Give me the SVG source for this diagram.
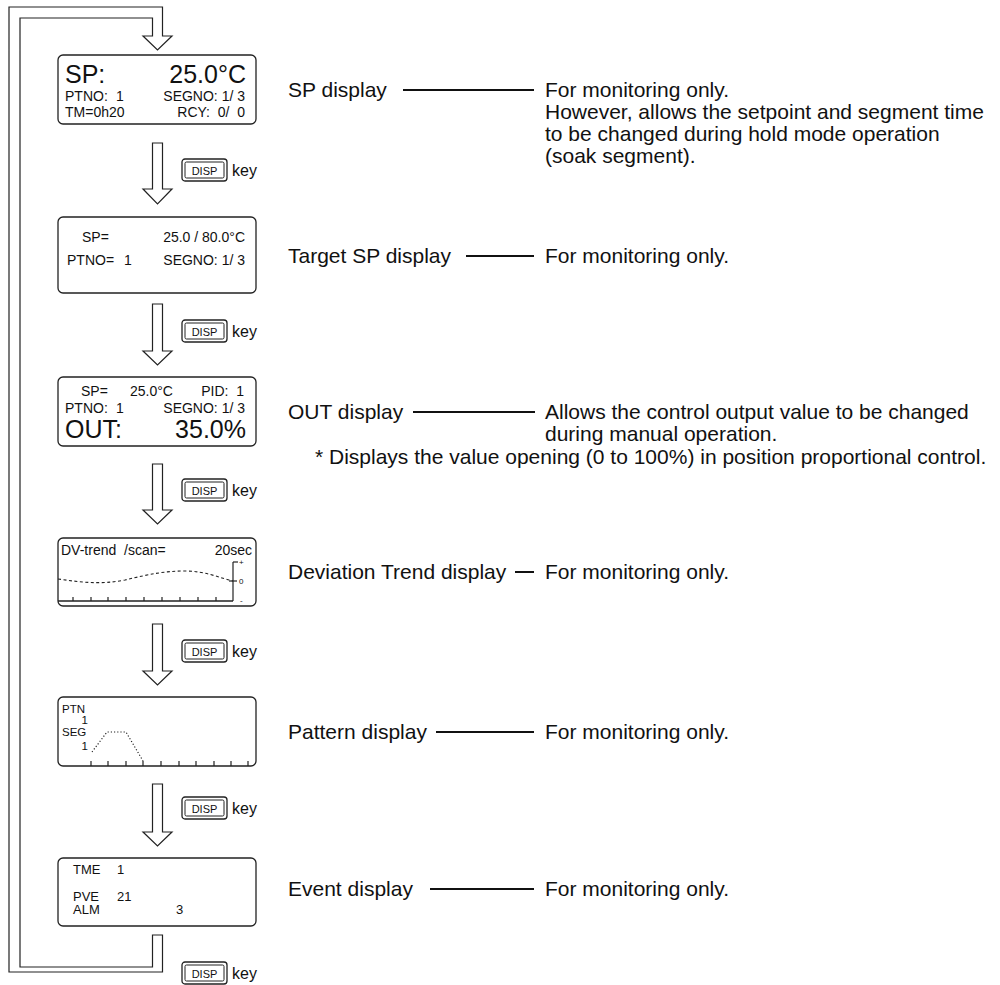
<svg xmlns="http://www.w3.org/2000/svg" width="1000" height="985" viewBox="0 0 1000 985">
<style>
text{font-family:"Liberation Sans",Arial,Helvetica,sans-serif;fill:#111}
.box{fill:#fff;stroke:#222;stroke-width:1.3}
.arw{fill:#fff;stroke:#222;stroke-width:1.2;stroke-linejoin:miter}
.big{font-size:25px}
.sm{font-size:14px}
.r{text-anchor:end}
.lbl{font-size:21px}
.ln{stroke:#111;stroke-width:2}
.kout{fill:#fff;stroke:#222;stroke-width:1.3}
.kin{fill:none;stroke:#222;stroke-width:1}
.kt{font-size:11px;text-anchor:middle}
.ky{font-size:16px}
.tick{stroke:#222;stroke-width:1.2}
</style>
<defs>
<g id="key">
<rect class="kout" x="0" y="0" width="45" height="22" rx="3"/>
<rect class="kin" x="3" y="3" width="39" height="16" rx="1.5"/>
<text class="kt" x="22.5" y="15.5">DISP</text>
<text class="ky" x="50" y="17">key</text>
</g>
</defs>

<g id="connectors">
<path class="arw" d="M162.5 935 V972 H9 V7 H162.5 V36 H172 L157.5 50 L143 36 H152.5 V18 H20 V967 H152.5 V935 Z"/>
<path class="arw" d="M152.5 143 H162.5 V189 H172 L157.5 204 L143 189 H152.5 Z"/>
<path class="arw" d="M152.5 304 H162.5 V351 H172 L157.5 365 L143 351 H152.5 Z"/>
<path class="arw" d="M152.5 464 H162.5 V510 H172 L157.5 524 L143 510 H152.5 Z"/>
<path class="arw" d="M152.5 624 H162.5 V671 H172 L157.5 685 L143 671 H152.5 Z"/>
<path class="arw" d="M152.5 784 H162.5 V832 H172 L157.5 846 L143 832 H152.5 Z"/>
<use href="#key" x="182" y="159"/>
<use href="#key" x="182" y="320"/>
<use href="#key" x="182" y="479"/>
<use href="#key" x="182" y="640"/>
<use href="#key" x="182" y="797"/>
<use href="#key" x="182" y="962"/>
<line class="ln" x1="403" y1="90" x2="534" y2="90"/>
<line class="ln" x1="466" y1="256" x2="534" y2="256"/>
<line class="ln" x1="413" y1="412" x2="535" y2="412"/>
<line class="ln" x1="515" y1="572" x2="534" y2="572"/>
<line class="ln" x1="436" y1="732" x2="534" y2="732"/>
<line class="ln" x1="430" y1="889" x2="534" y2="889"/>
</g>

<g id="sp-display">
<rect class="box" x="58" y="55" width="198" height="69" rx="5"/>
<text class="big" x="65" y="83">SP:</text>
<text class="big r" x="246" y="83">25.0°C</text>
<text class="sm" x="65" y="101">PTNO:</text>
<text class="sm" x="116" y="101">1</text>
<text class="sm r" x="245" y="101">SEGNO: 1/ 3</text>
<text class="sm" x="65" y="117">TM=0h20</text>
<text class="sm r" x="245" y="117" xml:space="preserve">RCY:  0/  0</text>
<text class="lbl" x="288" y="97">SP display</text>
<text class="lbl" x="545" y="97">For monitoring only.</text>
<text class="lbl" x="545" y="119">However, allows the setpoint and segment time</text>
<text class="lbl" x="545" y="141">to be changed during hold mode operation</text>
<text class="lbl" x="545" y="163">(soak segment).</text>
</g>

<g id="target-sp-display">
<rect class="box" x="58" y="217" width="198" height="76" rx="5"/>
<text class="sm" x="82" y="242">SP=</text>
<text class="sm r" x="245" y="242">25.0 / 80.0°C</text>
<text class="sm" x="67" y="265">PTNO=</text>
<text class="sm" x="124" y="265">1</text>
<text class="sm r" x="245" y="265">SEGNO: 1/ 3</text>
<text class="lbl" x="288" y="263">Target SP display</text>
<text class="lbl" x="545" y="263">For monitoring only.</text>
</g>

<g id="out-display">
<rect class="box" x="58" y="377" width="198" height="69" rx="5"/>
<text class="sm" x="81" y="396">SP=</text>
<text class="sm" x="130" y="396">25.0°C</text>
<text class="sm r" x="244" y="396" xml:space="preserve">PID:  1</text>
<text class="sm" x="65" y="413">PTNO:</text>
<text class="sm" x="116" y="413">1</text>
<text class="sm r" x="245" y="413">SEGNO: 1/ 3</text>
<text class="big" x="65" y="438">OUT:</text>
<text class="big r" x="246" y="438">35.0%</text>
<text class="lbl" x="288" y="419">OUT display</text>
<text class="lbl" x="545" y="419">Allows the control output value to be changed</text>
<text class="lbl" x="545" y="441">during manual operation.</text>
<text class="lbl" x="315" y="464">* Displays the value opening (0 to 100%) in position proportional control.</text>
</g>

<g id="deviation-trend-display">
<rect class="box" x="58" y="538" width="198" height="68" rx="5"/>
<text class="sm" x="61" y="555">DV-trend</text>
<text class="sm" x="124" y="555">/scan=</text>
<text class="sm r" x="252" y="555">20sec</text>
<path d="M58 579 C80 582,100 585,125 580 C150 574,165 571,185 571 C205 571,220 578,233 581" fill="none" stroke="#222" stroke-width="1.1" stroke-dasharray="3,2.5"/>
<line x1="58" y1="601" x2="233" y2="601" stroke="#222" stroke-width="1.6"/>
<line class="tick" x1="233" y1="562" x2="233" y2="601"/>
<line class="tick" x1="233" y1="562" x2="238" y2="562"/>
<line class="tick" x1="229" y1="581" x2="237" y2="581"/>
<text x="239" y="565" font-size="8">+</text>
<text x="239" y="584" font-size="8">0</text>
<text x="240" y="603" font-size="8">-</text>
<path class="tick" d="M73 597V601M91 597V601M108 597V601M126 597V601M144 597V601M162 597V601M180 597V601M198 597V601M216 597V601"/>
<text class="lbl" x="288" y="579">Deviation Trend display</text>
<text class="lbl" x="545" y="579">For monitoring only.</text>
</g>

<g id="pattern-display">
<rect class="box" x="58" y="697" width="198" height="69" rx="5"/>
<text x="62" y="713" font-size="11.5">PTN</text>
<text x="88" y="724" font-size="11.5" text-anchor="end">1</text>
<text x="62" y="736" font-size="11.5">SEG</text>
<text x="88" y="750" font-size="11.5" text-anchor="end">1</text>
<path d="M92 752 L107 732 L126 732 L143 761" fill="none" stroke="#222" stroke-width="1.2" stroke-dasharray="1.2,2"/>
<path class="tick" d="M91 761V766M108 761V766M126 761V766M143 761V766M161 761V766M179 761V766M196 761V766M214 761V766M231 761V766M248 761V766"/>
<text class="lbl" x="288" y="739">Pattern display</text>
<text class="lbl" x="545" y="739">For monitoring only.</text>
</g>

<g id="event-display">
<rect class="box" x="58" y="858" width="198" height="68" rx="5"/>
<text x="73" y="874" font-size="13">TME</text>
<text x="117" y="874" font-size="13">1</text>
<text x="73" y="901" font-size="13">PVE</text>
<text x="117" y="901" font-size="13">21</text>
<text x="73" y="914" font-size="13">ALM</text>
<text x="176" y="914" font-size="13">3</text>
<text class="lbl" x="288" y="896">Event display</text>
<text class="lbl" x="545" y="896">For monitoring only.</text>
</g>
</svg>
